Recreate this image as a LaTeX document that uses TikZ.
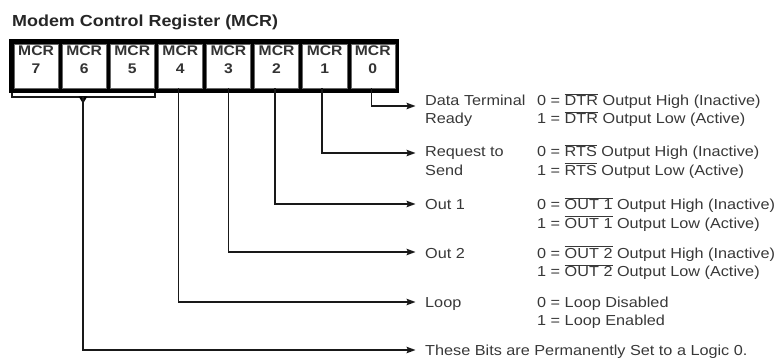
\documentclass[tikz,border=0pt]{standalone}
\usepackage{fontspec}
\setmainfont{Liberation Sans}[FakeStretch=1.12]
\usetikzlibrary{arrows.meta}
\newcommand{\ovl}[1]{$\overline{\hbox{#1}}$}
\begin{document}
\begin{tikzpicture}[x=1pt,y=-1pt,
  txt/.style={font=\fontsize{14.5}{18}\selectfont, text=black!78, inner sep=0pt, anchor=west, text height=10.4pt, text depth=0pt},
  cell/.style={fill=white, draw=black!60, line width=0.4pt, minimum width=44.1pt, minimum height=44pt, inner sep=0pt},
  celltxt/.style={font=\fontsize{14}{18.5}\selectfont\bfseries, text=black!80, align=center, inner sep=0pt},
  conn/.style={line width=1.5pt, black!90},
  arr/.style={conn, -{Stealth[length=9pt,width=6.5pt,inset=1.5pt]}},
]
\useasboundingbox (0,0) rectangle (777,361);
\node[font=\fontsize{16}{19}\selectfont\bfseries, text=black!85, anchor=west, inner sep=0pt, text height=11.5pt, text depth=0pt] (title) at (12,21) {Modem Control Register (MCR)};
% register frame
\fill[black] (9,39) rectangle (399,93);
\foreach \b [count=\i from 0] in {7,6,5,4,3,2,1,0} {
  \node[cell] (c\b) at ({36.05+\i*48.1},66) {};
  \node[celltxt] (t\b) at ({36.05+\i*48.1},59.5) {MCR\\\b};
}
% bracket under MCR7..5
\draw[conn] (12,93) -- (12,97) -- (155,97) -- (155,93);
\coordinate (brk) at (83,97);
\fill[black] (78.5,96.3) -- (87.5,96.3) -- (83,103.5) -- cycle;
% arrow ends
\coordinate (e0) at (415.5,106);
\coordinate (e1) at (415.5,153);
\coordinate (e2) at (415.5,204);
\coordinate (e3) at (415.5,252);
\coordinate (e4) at (415.5,302);
\coordinate (e5) at (415.5,350);
% connectors
\draw[arr] ([xshift=-1.5pt]c0.south) |- (e0);
\draw[arr] ([xshift=-2.5pt]c1.south) |- (e1);
\draw[arr] ([xshift=-1.5pt]c2.south) |- (e2);
\draw[arr] (c3.south) |- (e3);
\draw[arr] ([xshift=-2pt]c4.south) |- (e4);
\draw[arr] (brk) |- (e5);
% labels
\node[txt] (l0a) at (425,100) {Data Terminal};
\node[txt] (l0b) at (425,118.5) {Ready};
\node[txt] (d0a) at (537,100) {0 = \ovl{DTR} Output High (Inactive)};
\node[txt] (d0b) at (537,118.5) {1 = \ovl{DTR} Output Low (Active)};
\node[txt] (l1a) at (425,151.5) {Request to};
\node[txt] (l1b) at (425,170) {Send};
\node[txt] (d1a) at (537,151.5) {0 = \ovl{RTS} Output High (Inactive)};
\node[txt] (d1b) at (537,170) {1 = \ovl{RTS} Output Low (Active)};
\node[txt] (l2a) at (425,204.5) {Out 1};
\node[txt] (d2a) at (537,204.5) {0 = \ovl{OUT 1} Output High (Inactive)};
\node[txt] (d2b) at (537,223) {1 = \ovl{OUT 1} Output Low (Active)};
\node[txt] (l3a) at (425,253) {Out 2};
\node[txt] (d3a) at (537,253) {0 = \ovl{OUT 2} Output High (Inactive)};
\node[txt] (d3b) at (537,271.5) {1 = \ovl{OUT 2} Output Low (Active)};
\node[txt] (l4a) at (425,302) {Loop};
\node[txt] (d4a) at (537,302) {0 = Loop Disabled};
\node[txt] (d4b) at (537,320.5) {1 = Loop Enabled};
\node[txt] (l5a) at (425,350) {These Bits are Permanently Set to a Logic 0.};
\end{tikzpicture}
\end{document}
